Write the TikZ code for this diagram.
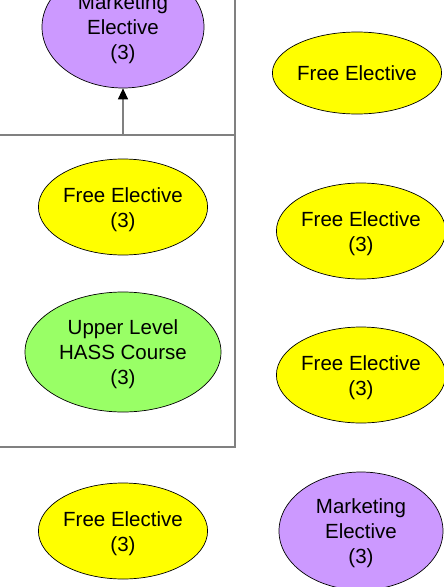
\documentclass[tikz,border=0pt]{standalone}
\usepackage{fontspec}
\setmainfont{Liberation Sans}
\usetikzlibrary{shapes.geometric,arrows.meta}
\definecolor{mkt}{HTML}{CC99FF}
\definecolor{fre}{HTML}{FFFF00}
\definecolor{hass}{HTML}{99FF66}
\definecolor{frame}{HTML}{808080}
\newcommand{\lowr}{\rule{0pt}{19.5pt}}
\tikzset{
  course/.style={ellipse, draw=black, line width=0.7pt, inner sep=0pt, align=center,
    font=\fontsize{20.5}{25}\selectfont, text=black},
  framel/.style={draw=frame, line width=1.2pt},
}
\begin{document}
\begin{tikzpicture}[x=1pt,y=-1pt]
\useasboundingbox (0,0) rectangle (444,587);
\clip (0,0) rectangle (444,587);
% left column
\node[course, fill=mkt, minimum width=162pt, minimum height=122pt] (m1) at (123,27) {\lowr Marketing\\Elective\\(3)};
\node[course, fill=fre, minimum width=168pt, minimum height=96pt] (f1) at (123,207) {\lowr Free Elective\\(3)};
\node[course, fill=hass, minimum width=196pt, minimum height=120pt] (h1) at (123,352) {\lowr Upper Level\\HASS Course\\(3)};
\node[course, fill=fre, minimum width=168pt, minimum height=96pt] (f2) at (123,531) {\lowr Free Elective\\(3)};
% right column
\node[course, fill=fre, minimum width=158pt, minimum height=82pt] (f3) at (357,73) {Free Elective};
\node[course, fill=fre, minimum width=166pt, minimum height=96pt] (f4) at (361,231) {\lowr Free Elective\\(3)};
\node[course, fill=fre, minimum width=166pt, minimum height=96pt] (f5) at (361,375) {\lowr Free Elective\\(3)};
\node[course, fill=mkt, minimum width=164pt, minimum height=118pt] (m2) at (361,531) {\lowr Marketing\\Elective\\(3)};
% frame
\coordinate (tl) at (0,135);
\coordinate (tr) at (235,135);
\coordinate (rt) at (235,0);
\coordinate (rb) at (235,447);
\coordinate (bl) at (0,447);
\coordinate (a) at (123,135);
\draw[framel] (tl) -- (tr);
\draw[framel] (rt) -- (rb) -- (bl);
\draw[framel, -{Triangle[length=11pt,width=10pt,color=black]}] (a) -- (m1.south);
\end{tikzpicture}
\end{document}
